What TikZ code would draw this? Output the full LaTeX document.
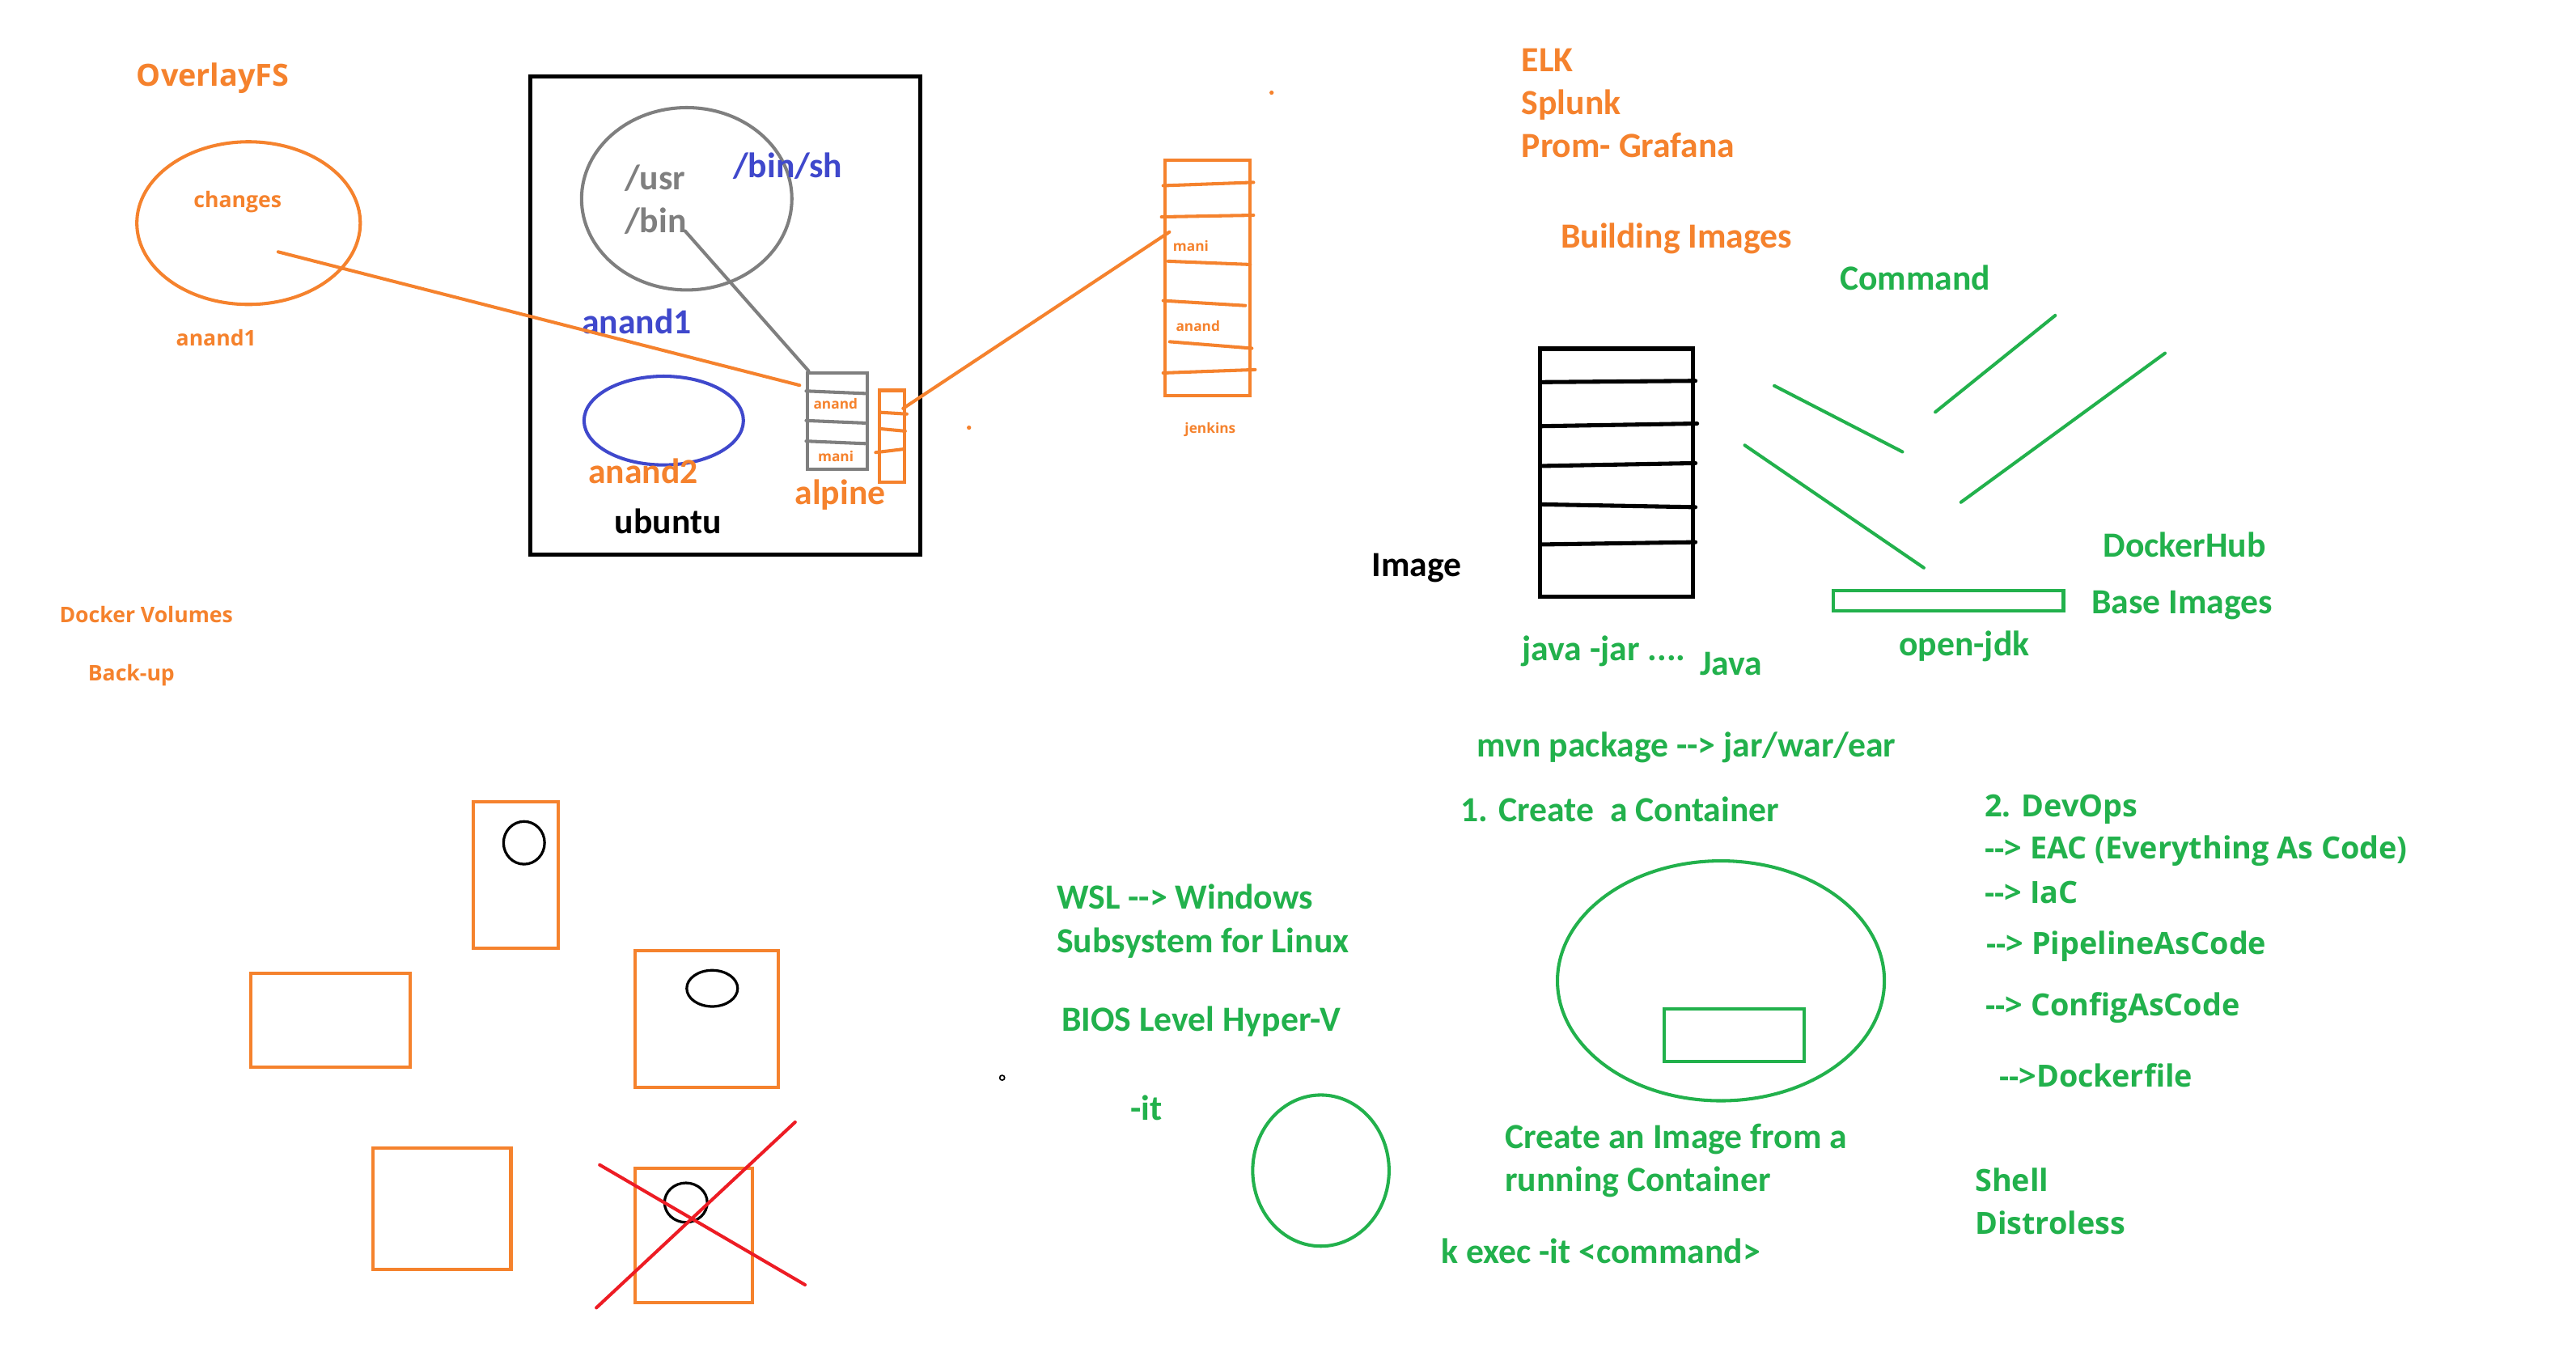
\documentclass[tikz,border=0pt]{standalone}
\usepackage{fontspec}
\setmainfont{Carlito}
\newfontfamily\segfont{Open Sans}
\usetikzlibrary{shapes.geometric}
\definecolor{orng}{RGB}{245,130,45}
\definecolor{grn}{RGB}{34,177,76}
\definecolor{blu}{RGB}{63,72,204}
\definecolor{gry}{RGB}{127,127,127}
\definecolor{rd}{RGB}{237,28,36}
\newcommand{\arrw}{-{}-{}>}
\tikzset{
  cal/.style={font=\fontsize{21.5}{24}\selectfont\bfseries, inner sep=0pt, anchor=base west},
  seg/.style={font=\segfont\fontsize{18.6}{22}\selectfont\bfseries, inner sep=0pt, anchor=base west},
  segsm/.style={font=\segfont\fontsize{13.1}{15}\selectfont\bfseries, inner sep=0pt, anchor=base west},
  segtiny/.style={font=\segfont\fontsize{8.5}{10}\selectfont\bfseries, inner sep=0pt, anchor=base west},
  box/.style={draw, rectangle, inner sep=0pt, line width=2pt, anchor=north west},
  oval/.style={draw, ellipse, inner sep=0pt, line width=2pt},
  pen/.style={line width=2pt, line cap=round},
  dotmark/.style={circle, fill, inner sep=0pt, minimum size=2.6pt},
}
\begin{document}
\begin{tikzpicture}[x=1pt,y=-1pt]
\fill[white] (0,0) rectangle (1568,825);
\useasboundingbox (0,0) rectangle (1568,825);

% ---------- top left: OverlayFS ----------
\node[seg, text=orng] (overlay) at (83,52.5) {OverlayFS};
\node[oval, draw=orng, minimum width=136pt, minimum height=99pt] (chg) at (151.3,135.8) {};
\node[segsm, text=orng] (chgt) at (117.7,126.4) {changes};
\node[segsm, text=orng] (anoneo) at (107,210.6) {anand1};
\coordinate (chgp) at (169.3,153.3);
\node[segsm, text=orng] (dvol) at (36,379) {Docker Volumes};
\node[segsm, text=orng] (backup) at (53.4,414.6) {Back-up};

% ---------- ubuntu box ----------
\node[box, draw=black, line width=2.5pt, minimum width=237pt, minimum height=291pt] (ubu) at (321.7,45.3) {};
\node[oval, draw=gry, minimum width=128pt, minimum height=111pt] (gell) at (418,121) {};
\node[cal, text=gry] (usr) at (380,115.4) {/usr};
\node[cal, text=gry] (bin) at (380,141.6) {/bin};
\coordinate (binp) at (417,140.6);
\node[cal, text=blu] (binsh) at (446,108) {/bin/sh};
\node[cal, text=blu] (anoneb) at (354,203.2) {anand1};
\node[oval, draw=blu, minimum width=97pt, minimum height=54pt] (bell) at (404,256) {};
\node[cal, text=orng] (antwo) at (358,294.4) {anand2};
\node[cal, text=black] (ubut) at (374,324.6) {ubuntu};

% grey layered box
\node[box, draw=gry, minimum width=36pt, minimum height=59pt] (gbox) at (490.7,225.8) {};
\draw[pen, gry] (490.7,238) -- (526.6,239.5);
\draw[pen, gry] (490.7,256) -- (526.6,257.5);
\draw[pen, gry] (490.7,268.5) -- (526.6,270);
\node[segtiny, text=orng] (gan) at (495,249) {anand};
\node[segtiny, text=orng] (gma) at (497.7,281) {mani};

% orange small box (alpine)
\node[box, draw=orng, minimum width=15.2pt, minimum height=56pt] (abox) at (534.5,236.6) {};
\draw[pen, orng] (536,251) -- (552,252);
\draw[pen, orng] (536,261) -- (551,262.4);
\draw[pen, orng] (533,275.4) -- (549.7,273.4);
\node[cal, text=orng] (alp) at (483.7,307) {alpine};

% jenkins box
\node[box, draw=orng, minimum width=52pt, minimum height=143.5pt] (jbox) at (708,96.5) {};
\draw[pen, orng] (708,113) -- (763,111);
\draw[pen, orng] (707,132) -- (763,131);
\draw[pen, orng] (711,159) -- (761,161);
\draw[pen, orng] (708,183) -- (758,186);
\draw[pen, orng] (712,208) -- (762,212);
\draw[pen, orng] (708,227) -- (764,225);
\node[segtiny, text=orng] (jma) at (713.8,152.7) {mani};
\node[segtiny, text=orng] (jan) at (715.6,201.6) {anand};
\node[segtiny, text=orng] (jen) at (721,263.5) {jenkins};

% connectors
\draw[pen, orng] (chgp) -- ([shift={(-4,8.7)}]gbox.north west);
\draw[pen, gry] (binp) -- ([shift={(1.5,0)}]gbox.north west);
\draw[pen, orng] ([shift={(15.2,12)}]abox.north west) -- ([shift={(3.8,44.7)}]jbox.north west);

% stray dots
\node[dotmark, orng] (d1) at (774,56.4) {};
\node[dotmark, orng] (d2) at (589.8,260.3) {};
\node[circle, draw=black, line width=0.8pt, inner sep=0pt, minimum size=3pt] (d3) at (610,656) {};

% ---------- ELK etc ----------
\node[cal, text=orng] (elk) at (926,43.5) {ELK};
\node[cal, text=orng] (splunk) at (926,69.8) {Splunk};
\node[cal, text=orng] (prom) at (926,96) {Prom- Grafana};
\node[cal, text=orng] (build) at (949.8,151) {Building Images};
\node[cal, text=grn] (cmd) at (1119.7,176.5) {Command};

% image stack
\node[box, draw=black, line width=2.5pt, minimum width=93pt, minimum height=151pt] (img) at (936,211) {};
\draw[black, line width=2.5pt, line cap=round] (938,232.6) -- (1032,231.8);
\draw[black, line width=2.5pt, line cap=round] (938,259.4) -- (1033,257.8);
\draw[black, line width=2.5pt, line cap=round] (939,283.6) -- (1032,281.9);
\draw[black, line width=2.5pt, line cap=round] (938,307) -- (1032,308.7);
\draw[black, line width=2.5pt, line cap=round] (938,331.4) -- (1032,330);
\node[cal, text=black] (imgt) at (834.8,351) {Image};

% green strokes
\draw[pen, grn] (1080,234.8) -- (1158,275);
\draw[pen, grn] (1178,250.8) -- (1251,192);
\draw[pen, grn] (1062,271) -- (1171,345.6);
\draw[pen, grn] (1193.6,305.7) -- (1317.8,215);
\node[box, draw=grn, minimum width=140pt, minimum height=12.3pt] (base) at (1115,358.7) {};
\node[cal, text=grn] (dhub) at (1280,339) {DockerHub};
\node[cal, text=grn] (bimg) at (1273,373.5) {Base Images};
\node[cal, text=grn] (ojdk) at (1155.7,399) {open-jdk};
\node[cal, text=grn] (jjar) at (926.5,402) {java -jar ....};
\node[cal, text=grn] (java) at (1034.5,411) {Java};

% ---------- middle lower ----------
\node[cal, text=grn] (mvn) at (899,460.7) {mvn package \arrw{} jar/war/ear};
\node[cal, text=grn] (create) at (889,500) {1. Create\ \ a Container};
\node[oval, draw=grn, minimum width=199pt, minimum height=146pt] (cont) at (1047.5,597) {};
\node[box, draw=grn, minimum width=85pt, minimum height=31.7pt] (inr) at (1012,613.3) {};
\node[cal, text=grn] (cimg) at (916,699) {Create an Image from a};
\node[cal, text=grn] (run) at (916,725) {running Container};
\node[cal, text=grn] (kexec) at (877,769) {k exec -it <command>};
\node[cal, text=grn] (wsl) at (643,553.3) {WSL \arrw{} Windows};
\node[cal, text=grn] (subs) at (643,579.8) {Subsystem for Linux};
\node[cal, text=grn] (bios) at (646,627.6) {BIOS Level Hyper-V};
\node[cal, text=grn] (it) at (688,682) {-it};
\node[oval, draw=grn, minimum width=83pt, minimum height=92pt] (sell) at (804,712.5) {};

% ---------- right column ----------
\node[seg, text=grn] (devops) at (1208,497) {2. DevOps};
\node[seg, text=grn] (eac) at (1208,522.7) {\arrw{} EAC (Everything As Code)};
\node[seg, text=grn] (iac) at (1208,550) {\arrw{} IaC};
\node[seg, text=grn] (pac) at (1209,581) {\arrw{} PipelineAsCode};
\node[seg, text=grn] (cac) at (1208.6,618.5) {\arrw{} ConfigAsCode};
\node[seg, text=grn] (dfile) at (1216.8,661.5) {\arrw{}Dockerfile};
\node[seg, text=grn] (shell) at (1202,725) {Shell};
\node[seg, text=grn] (distro) at (1202,751) {Distroless};

% ---------- bottom left boxes ----------
\node[box, draw=orng, minimum width=52pt, minimum height=89pt] (b1) at (287,487) {};
\node[draw=black, ellipse, line width=1.6pt, inner sep=0pt, minimum width=25pt, minimum height=26pt] (c1) at (319,513) {};
\node[box, draw=orng, minimum width=97pt, minimum height=57pt] (b2) at (151.7,591.6) {};
\node[box, draw=orng, minimum width=87pt, minimum height=83pt] (b3) at (385.8,577.8) {};
\node[draw=black, ellipse, line width=1.6pt, inner sep=0pt, minimum width=31pt, minimum height=22pt] (c3) at (433.5,601.6) {};
\node[box, draw=orng, minimum width=84pt, minimum height=74pt] (b4) at (226,697.7) {};
\node[box, draw=orng, minimum width=71pt, minimum height=82pt] (b5) at (385.8,710) {};
\node[draw=black, ellipse, line width=1.6pt, inner sep=0pt, minimum width=26pt, minimum height=24pt] (c5) at (417.5,732) {};
\draw[pen, rd] (365,709) -- (490,782);
\draw[pen, rd] (363,796) -- (484,683);
\end{tikzpicture}
\end{document}
